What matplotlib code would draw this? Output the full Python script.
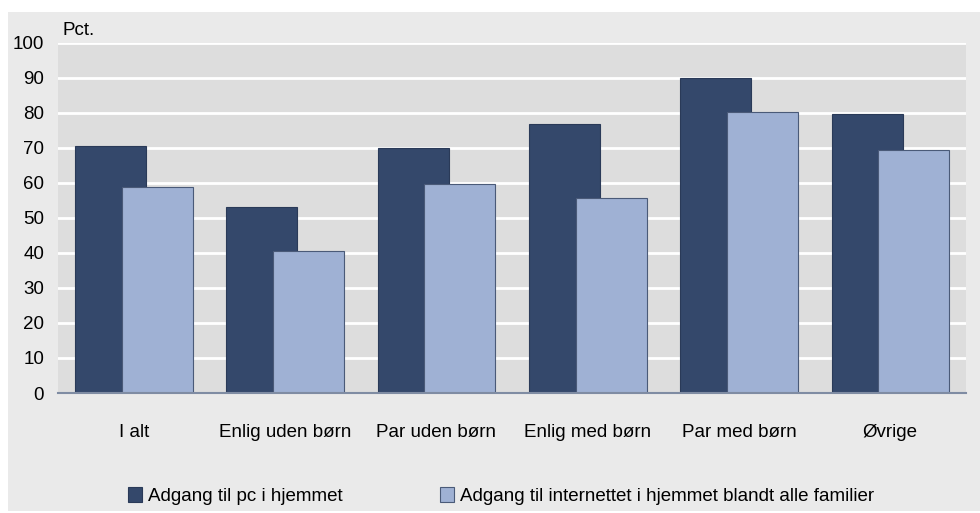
import matplotlib.pyplot as plt
import matplotlib.patches as mpatches
import numpy as np

plt.rcParams['font.family'] = ['Liberation Sans', 'DejaVu Sans']

# data
kategorier = ['I alt', 'Enlig uden børn', 'Par uden børn', 'Enlig med børn', 'Par med børn', 'Øvrige']
pc = [70.5, 53.1, 70.0, 76.7, 90.0, 79.6]
internet = [58.7, 40.5, 59.6, 55.6, 80.3, 69.3]
serie_navne = ['Adgang til pc i hjemmet', 'Adgang til internettet i hjemmet blandt alle familier']

mork = '#34486b'
lys = '#9fb1d4'
fs = 13.5

fig = plt.figure(figsize=(9.8, 5.13), dpi=100, facecolor='white')
# graa baggrund bag det hele
fig.patches.append(mpatches.Rectangle((8/980, 2/513), 972/980, 499/513, transform=fig.transFigure,
                                      facecolor='#eaeaea', edgecolor='none', zorder=-10))

ax = fig.add_axes([58/980, 120/513, 908/980, 350.5/513])
ax.set_facecolor('#dddddd')

x = np.arange(len(kategorier))
b = 0.47
ax.bar(x - 0.153, pc, width=b, color=mork, edgecolor='#2a3a58', linewidth=0.8, zorder=3, label=serie_navne[0])
ax.bar(x + 0.155, internet, width=b, color=lys, edgecolor='#4a5a78', linewidth=0.8, zorder=4, label=serie_navne[1])

ax.set_ylim(0, 100)
ax.set_xlim(-0.5, len(kategorier) - 0.5)
ax.set_yticks(range(0, 101, 10))
ax.set_xticks(x)
ax.set_xticklabels(kategorier)
ax.yaxis.grid(True, color='white', linewidth=2)
ax.set_axisbelow(True)
ax.tick_params(axis='both', length=0, labelsize=fs, colors='black')
ax.tick_params(axis='x', pad=22)
ax.tick_params(axis='y', pad=10)
for s in ['top', 'right', 'left']:
    ax.spines[s].set_visible(False)
ax.spines['bottom'].set_color('#7f8ca3')
ax.spines['bottom'].set_linewidth(1.5)
ax.spines['bottom'].set_zorder(5)

fig.text(62/980, 1 - 31/513, 'Pct.', fontsize=fs, va='center', ha='left')

fig.legend(loc='center', bbox_to_anchor=(501/980, 1 - 496/513), ncol=2, frameon=False,
           fontsize=fs, handlelength=0.75, handleheight=0.8, handletextpad=0.3, columnspacing=5.2)

plt.savefig('out.png', dpi=100, facecolor=fig.get_facecolor())
